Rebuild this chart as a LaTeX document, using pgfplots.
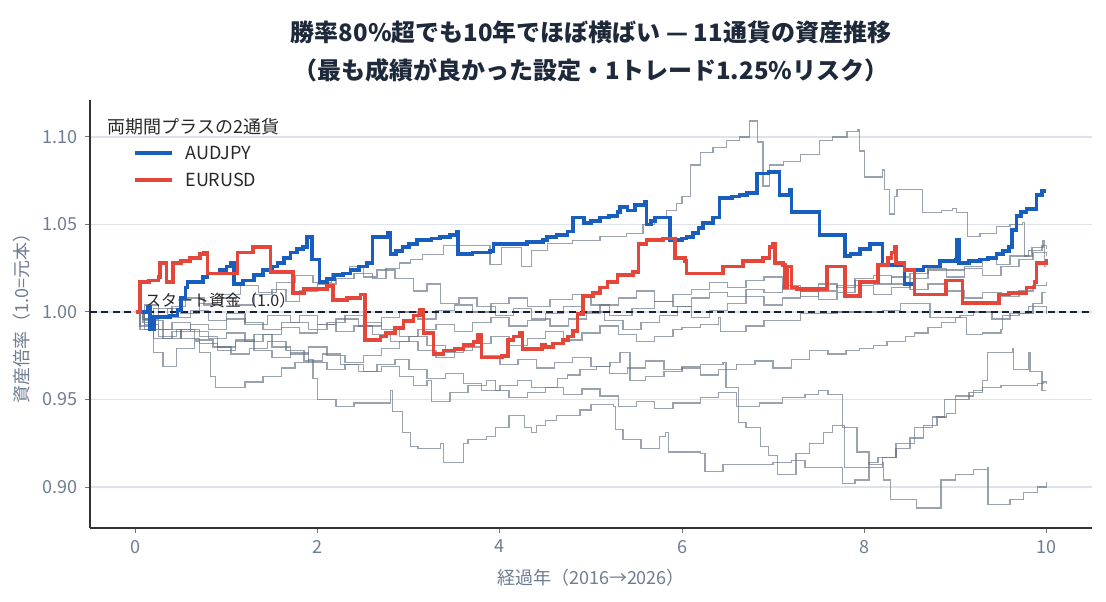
\documentclass[border=0pt]{standalone}
\usepackage{fontspec}
\setmainfont{Noto Sans CJK JP}
\usepackage{pgfplots}
\pgfplotsset{compat=1.18}
\definecolor{audblue}{RGB}{24,94,190}
\definecolor{eurred}{RGB}{229,70,58}
\definecolor{grayln}{RGB}{100,112,130}
\definecolor{titlec}{RGB}{30,41,59}
\definecolor{tickc}{RGB}{110,125,145}
\definecolor{gridc}{RGB}{222,227,234}
\definecolor{navy}{RGB}{22,32,56}
\definecolor{txtc}{RGB}{40,40,40}
\begin{document}
\begin{tikzpicture}
\useasboundingbox (-45pt,-36.5pt) rectangle (508pt,264pt);
\begin{axis}[
  scale only axis, width=501pt, height=214pt,
  xmin=-0.5, xmax=10.5, ymin=0.8766, ymax=1.1211,
  axis x line*=bottom, axis y line*=left,
  axis line style={color=black!80, line width=0.8pt},
  xtick={0,2,4,6,8,10}, ytick={0.90,0.95,1.00,1.05,1.10},
  yticklabel style={/pgf/number format/.cd, fixed, fixed zerofill, precision=2},
  /pgf/number format/assume math mode=true,
  tick align=outside, major tick length=2.5pt,
  tick style={color=black!55, line width=0.5pt},
  ymajorgrids, grid style={gridc, line width=0.6pt},
  ticklabel style={font=\fontsize{9}{11}\selectfont, color=tickc},
]
% gray series
\pgfplotsset{gl/.style={const plot, color=grayln, opacity=0.65, line width=0.7pt, forget plot}}
% G1
\addplot[gl] coordinates {(0,1.0)(0.08,0.994)(0.2,0.998)(0.35,1.002)(0.5,0.999)(0.7,1.005)(0.9,1.008)(1.1,1.004)(1.3,1.01)(1.5,1.013)(1.65,1.006)(1.8,1.012)(2.0,1.016)(2.2,1.019)(2.4,1.022)(2.6,1.019)(2.75,1.025)(2.9,1.028)(3.02,1.03)(3.15,1.033)(3.38,1.038)(3.86,1.038)(3.89,1.027)(4.02,1.037)(4.22,1.037)(4.24,1.026)(4.35,1.035)(4.52,1.039)(4.8,1.041)(5.1,1.043)(5.39,1.045)(5.57,1.05)(5.7,1.054)(5.83,1.058)(5.94,1.062)(6.0,1.066)(6.09,1.084)(6.2,1.091)(6.34,1.094)(6.49,1.098)(6.63,1.1)(6.74,1.109)(6.83,1.097)(6.89,1.072)(6.96,1.084)(7.11,1.086)(7.3,1.09)(7.51,1.098)(7.65,1.1)(7.81,1.103)(7.93,1.104)(7.95,1.092)(8.0,1.077)(8.2,1.081)(8.22,1.07)(8.28,1.056)(8.33,1.066)(8.36,1.07)(8.64,1.057)(8.85,1.058)(8.97,1.059)(9.01,1.057)(9.13,1.043)(9.27,1.045)(9.45,1.049)(9.6,1.05)(9.74,1.051)(9.76,1.032)(9.84,1.037)(9.96,1.041)(9.98,1.026)(10,1.026)};
% G2
\addplot[gl] coordinates {(0,1.0)(0.1,0.996)(0.25,0.99)(0.4,0.994)(0.6,0.989)(0.8,0.985)(1.0,0.988)(1.2,0.983)(1.4,0.987)(1.6,0.991)(1.8,0.988)(2.0,0.993)(2.2,0.996)(2.45,0.992)(2.7,0.997)(2.9,1.0)(3.1,0.996)(3.3,1.001)(3.5,1.004)(3.7,1.0)(3.9,1.005)(4.1,1.008)(4.3,1.003)(4.55,1.007)(4.8,1.01)(5.0,1.004)(5.2,0.998)(5.45,1.002)(5.7,1.006)(5.9,1.003)(6.1,1.008)(6.3,1.011)(6.5,1.009)(6.7,1.013)(6.9,1.011)(7.1,1.015)(7.3,1.012)(7.5,1.016)(7.7,1.014)(7.9,1.018)(8.1,1.016)(8.3,1.02)(8.5,1.022)(8.7,1.025)(8.9,1.024)(9.1,1.026)(9.3,1.03)(9.45,1.027)(9.6,1.032)(9.8,1.035)(9.95,1.038)(10,1.036)};
% G3
\addplot[gl] coordinates {(0,1.0)(0.05,0.992)(0.2,0.985)(0.4,0.989)(0.6,0.993)(0.8,0.99)(1.0,0.996)(1.2,0.993)(1.45,0.998)(1.7,0.994)(1.9,0.99)(2.1,0.994)(2.3,0.998)(2.5,0.994)(2.7,0.99)(2.9,0.986)(3.1,0.99)(3.3,0.993)(3.5,0.989)(3.7,0.994)(3.9,0.997)(4.1,0.992)(4.3,0.995)(4.5,0.999)(4.7,1.003)(4.9,0.999)(5.1,1.004)(5.3,1.008)(5.5,1.012)(5.7,1.006)(5.9,1.01)(6.1,1.013)(6.3,1.017)(6.5,1.014)(6.7,1.018)(6.9,1.02)(7.1,1.013)(7.3,1.009)(7.5,1.012)(7.7,1.015)(7.9,1.019)(8.1,1.021)(8.3,1.016)(8.5,1.013)(8.7,1.016)(8.9,1.012)(9.1,1.008)(9.3,1.011)(9.5,1.009)(9.7,1.012)(9.85,1.015)(10,1.017)};
% G4
\addplot[gl] coordinates {(0,1.0)(0.1,0.995)(0.3,0.99)(0.5,0.985)(0.7,0.982)(0.9,0.978)(1.1,0.983)(1.3,0.987)(1.5,0.98)(1.7,0.976)(1.9,0.98)(2.1,0.975)(2.3,0.971)(2.5,0.975)(2.7,0.979)(2.9,0.983)(3.1,0.978)(3.3,0.974)(3.5,0.978)(3.7,0.982)(3.9,0.986)(4.1,0.981)(4.3,0.985)(4.5,0.989)(4.7,0.984)(4.9,0.988)(5.1,0.992)(5.3,0.987)(5.5,0.983)(5.7,0.986)(5.9,0.99)(6.0,0.991)(6.2,0.993)(6.4,0.997)(6.42,0.989)(6.7,0.992)(6.9,0.995)(7.3,0.999)(7.7,1.0)(8.2,1.001)(8.4,1.005)(8.7,1.005)(8.72,0.997)(9.1,0.997)(9.12,0.987)(9.3,0.988)(9.5,0.99)(9.52,0.998)(9.7,0.999)(9.85,1.005)(9.95,1.011)(10,1.011)};
% G5
\addplot[gl] coordinates {(0,1.0)(0.1,0.993)(0.25,0.986)(0.45,0.99)(0.65,0.984)(0.85,0.98)(1.05,0.976)(1.25,0.979)(1.45,0.983)(1.65,0.978)(1.85,0.972)(2.05,0.976)(2.25,0.97)(2.45,0.966)(2.65,0.97)(2.85,0.973)(3.0,0.967)(3.2,0.962)(3.4,0.965)(3.6,0.959)(3.8,0.955)(4.0,0.958)(4.19,0.961)(4.35,0.957)(4.63,0.962)(4.74,0.964)(4.88,0.967)(5.06,0.969)(5.21,0.971)(5.32,0.977)(5.43,0.961)(5.6,0.963)(5.8,0.966)(6.0,0.968)(6.2,0.964)(6.4,0.967)(6.6,0.97)(6.8,0.972)(7.0,0.968)(7.2,0.973)(7.4,0.978)(7.6,0.976)(7.8,0.978)(7.95,0.979)(8.1,0.981)(8.25,0.983)(8.45,0.986)(8.55,0.988)(8.7,0.991)(8.85,0.994)(9.0,0.997)(9.05,0.998)(9.2,1.0)(9.4,0.996)(9.6,0.999)(9.8,1.003)(10,0.999)};
% G6
\addplot[gl] coordinates {(0,1.0)(0.1,0.99)(0.3,0.985)(0.5,0.99)(0.7,0.986)(0.9,0.98)(1.1,0.984)(1.3,0.978)(1.5,0.974)(1.7,0.977)(1.9,0.971)(2.1,0.967)(2.3,0.97)(2.5,0.966)(2.7,0.969)(2.9,0.963)(3.05,0.958)(3.2,0.961)(3.25,0.949)(3.45,0.954)(3.65,0.958)(3.85,0.961)(3.95,0.955)(4.1,0.951)(4.3,0.954)(4.5,0.957)(4.7,0.953)(4.9,0.956)(5.1,0.952)(5.3,0.946)(5.5,0.949)(5.7,0.945)(5.9,0.948)(6.2,0.951)(6.4,0.954)(6.6,0.946)(6.62,0.937)(6.7,0.934)(6.86,0.923)(6.95,0.918)(7.05,0.907)(7.25,0.919)(7.4,0.925)(7.55,0.931)(7.65,0.935)(7.78,0.911)(8.05,0.914)(8.15,0.917)(8.35,0.925)(8.55,0.934)(8.75,0.94)(8.88,0.95)(9.0,0.952)(9.2,0.955)(9.3,0.957)(9.5,0.958)(9.9,0.959)(9.96,0.96)(10,0.959)};
% G7
\addplot[gl] coordinates {(0,1.0)(0.08,0.996)(0.2,1.002)(0.4,0.997)(0.6,1.001)(0.8,0.995)(1.0,0.999)(1.2,0.994)(1.4,0.99)(1.6,0.994)(1.8,0.998)(2.0,0.993)(2.2,0.989)(2.4,0.992)(2.6,0.987)(2.8,0.983)(3.0,0.986)(3.2,0.981)(3.4,0.977)(3.6,0.98)(3.8,0.975)(4.0,0.97)(4.2,0.973)(4.4,0.968)(4.6,0.971)(4.8,0.974)(5.0,0.969)(5.2,0.965)(5.4,0.968)(5.6,0.972)(5.8,0.967)(6.0,0.969)(6.2,0.97)(6.45,0.971)(6.48,0.957)(6.62,0.946)(6.85,0.948)(7.1,0.951)(7.35,0.953)(7.5,0.955)(7.6,0.953)(7.76,0.934)(7.92,0.92)(8.05,0.913)(8.2,0.917)(8.35,0.922)(8.5,0.928)(8.65,0.935)(8.8,0.94)(8.9,0.942)(9.0,0.95)(9.15,0.954)(9.3,0.961)(9.35,0.977)(9.63,0.979)(9.64,0.967)(9.8,0.977)(9.82,0.966)(9.95,0.955)(10,0.955)};
% G8
\addplot[gl] coordinates {(0,1.0)(0.05,0.99)(0.2,0.977)(0.3,0.969)(0.45,0.979)(0.65,0.983)(0.7,0.977)(0.82,0.963)(0.88,0.957)(1.2,0.96)(1.4,0.963)(1.6,0.968)(1.75,0.971)(1.9,0.973)(1.95,0.962)(2.0,0.95)(2.2,0.946)(2.4,0.948)(2.8,0.955)(2.82,0.943)(2.93,0.931)(3.02,0.923)(3.1,0.922)(3.35,0.925)(3.38,0.914)(3.58,0.914)(3.6,0.925)(3.65,0.927)(3.85,0.929)(3.95,0.934)(4.1,0.941)(4.25,0.941)(4.27,0.934)(4.35,0.931)(4.4,0.935)(4.5,0.938)(4.62,0.941)(4.88,0.944)(5.0,0.947)(5.25,0.946)(5.27,0.933)(5.35,0.927)(5.55,0.922)(5.75,0.929)(5.82,0.931)(5.85,0.92)(6.2,0.919)(6.25,0.909)(6.45,0.913)(7.0,0.914)(7.2,0.915)(7.35,0.911)(7.76,0.902)(7.9,0.904)(8.05,0.911)(8.2,0.914)(8.21,0.904)(8.29,0.893)(8.57,0.888)(8.84,0.904)(9.0,0.907)(9.2,0.91)(9.35,0.911)(9.36,0.89)(9.6,0.893)(9.75,0.897)(9.9,0.9)(10,0.903)};
% G9
\addplot[gl] coordinates {(0,1.0)(0.1,1.004)(0.25,0.998)(0.4,1.003)(0.55,1.008)(0.75,1.004)(0.95,1.01)(1.15,1.015)(1.35,1.011)(1.55,1.017)(1.75,1.021)(1.95,1.017)(2.15,1.022)(2.35,1.026)(2.5,1.02)(2.65,1.024)(2.85,1.019)(3.05,1.012)(3.2,1.016)(3.35,1.005)(3.55,1.008)(3.75,1.003)(3.95,0.998)(4.15,1.002)(4.35,0.996)(4.55,0.992)(4.75,0.996)(4.95,1.0)(5.15,0.995)(5.35,0.99)(5.55,0.994)(5.75,0.998)(5.95,1.003)(6.1,0.997)(6.3,1.001)(6.5,1.005)(6.7,1.009)(6.9,1.004)(7.1,1.008)(7.3,1.012)(7.5,1.007)(7.7,1.011)(7.9,1.015)(8.1,1.01)(8.3,1.014)(8.5,1.019)(8.7,1.024)(8.9,1.02)(9.1,1.025)(9.3,1.021)(9.5,1.026)(9.7,1.03)(9.85,1.034)(10,1.032)};
% reference line
\addplot[color=navy, line width=0.8pt, dash pattern=on 3.5pt off 2.2pt, forget plot] coordinates {(-0.5,1.0) (10.5,1.0)};
\node[anchor=south west, inner sep=0.5pt, font=\fontsize{8}{9.6}\selectfont, text=txtc] at (axis cs:0.09,1.0015) {スタート資金（1.0）};
% AUDJPY
\addplot[const plot, color=audblue, line width=1.8pt, forget plot] coordinates {(0.00,1.000)(0.14,1.003)(0.16,0.990)(0.20,0.997)(0.38,0.998)(0.46,1.001)(0.50,1.008)(0.55,1.014)(0.57,1.017)(0.74,1.020)(0.79,1.022)(0.92,1.024)(1.00,1.026)(1.05,1.028)(1.08,1.016)(1.18,1.018)(1.30,1.021)(1.40,1.024)(1.50,1.026)(1.56,1.028)(1.63,1.031)(1.70,1.034)(1.77,1.036)(1.84,1.037)(1.88,1.043)(1.94,1.030)(2.02,1.017)(2.10,1.019)(2.18,1.021)(2.28,1.022)(2.36,1.024)(2.45,1.026)(2.54,1.028)(2.60,1.043)(2.77,1.045)(2.80,1.033)(2.86,1.035)(2.93,1.037)(3.00,1.039)(3.09,1.041)(3.25,1.042)(3.34,1.043)(3.45,1.044)(3.53,1.046)(3.54,1.033)(3.70,1.034)(3.89,1.035)(3.93,1.039)(4.10,1.039)(4.30,1.040)(4.47,1.041)(4.52,1.043)(4.62,1.044)(4.74,1.046)(4.80,1.054)(4.92,1.051)(5.00,1.052)(5.10,1.054)(5.20,1.055)(5.29,1.057)(5.32,1.060)(5.40,1.058)(5.48,1.061)(5.59,1.063)(5.61,1.050)(5.66,1.052)(5.70,1.054)(5.87,1.041)(6.00,1.042)(6.05,1.043)(6.12,1.045)(6.18,1.048)(6.23,1.051)(6.34,1.054)(6.41,1.065)(6.55,1.066)(6.63,1.067)(6.71,1.068)(6.82,1.079)(6.95,1.080)(7.07,1.067)(7.18,1.070)(7.20,1.057)(7.51,1.044)(7.79,1.032)(7.85,1.033)(7.95,1.036)(8.06,1.039)(8.20,1.027)(8.44,1.016)(8.55,1.024)(8.65,1.026)(8.83,1.029)(9.01,1.030)(9.02,1.041)(9.04,1.028)(9.15,1.029)(9.27,1.030)(9.36,1.031)(9.45,1.033)(9.52,1.035)(9.59,1.037)(9.62,1.047)(9.67,1.055)(9.72,1.057)(9.78,1.059)(9.89,1.067)(9.95,1.069)(10.0,1.069)};
% EURUSD
\addplot[const plot, color=eurred, line width=1.8pt, forget plot] coordinates {(0,1.000)(0.05,1.017)(0.15,1.018)(0.25,1.020)(0.27,1.028)(0.34,1.017)(0.41,1.028)(0.50,1.029)(0.60,1.031)(0.71,1.033)(0.75,1.034)(0.79,1.022)(1.12,1.034)(1.29,1.037)(1.48,1.023)(1.73,1.011)(1.85,1.013)(1.95,1.013)(2.10,1.015)(2.17,1.007)(2.32,1.008)(2.47,1.010)(2.52,0.984)(2.69,0.986)(2.75,0.988)(2.85,0.991)(2.94,0.995)(3.05,0.998)(3.12,1.001)(3.16,0.988)(3.27,0.976)(3.38,0.978)(3.50,0.979)(3.60,0.981)(3.71,0.983)(3.76,0.987)(3.80,0.974)(4.02,0.975)(4.09,0.984)(4.15,0.986)(4.22,0.988)(4.25,0.979)(4.42,0.979)(4.46,0.981)(4.50,0.980)(4.58,0.982)(4.69,0.984)(4.75,0.986)(4.80,0.989)(4.85,0.999)(4.91,1.009)(5.02,1.011)(5.10,1.014)(5.18,1.017)(5.29,1.021)(5.46,1.023)(5.52,1.039)(5.61,1.041)(5.79,1.042)(5.92,1.031)(6.03,1.029)(6.05,1.022)(6.45,1.026)(6.67,1.029)(6.89,1.031)(6.96,1.037)(7.00,1.039)(7.02,1.028)(7.11,1.027)(7.13,1.014)(7.15,1.026)(7.20,1.014)(7.26,1.013)(7.59,1.026)(7.79,1.009)(7.95,1.017)(8.15,1.027)(8.26,1.031)(8.30,1.034)(8.33,1.037)(8.35,1.028)(8.44,1.024)(8.55,1.010)(8.90,1.018)(9.08,1.005)(9.48,1.010)(9.59,1.011)(9.78,1.014)(9.87,1.017)(9.89,1.028)(10.0,1.030)};
\end{axis}
% titles and labels
\node[font=\fontsize{12}{14}\bfseries\selectfont, text=titlec] at (250.5pt,248pt) {勝率80\%超でも10年でほぼ横ばい — 11通貨の資産推移};
\node[font=\fontsize{12}{14}\bfseries\selectfont, text=titlec] at (250.5pt,229pt) {（最も成績が良かった設定・1トレード1.25\%リスク）};
\node[font=\fontsize{9}{11}\selectfont, text=tickc] at (250.5pt,-25pt) {経過年（2016→2026）};
\node[font=\fontsize{9}{11}\selectfont, text=tickc, rotate=90] at (-34pt,107pt) {資産倍率（1.0=元本）};
% legend
\node[anchor=west, inner sep=0pt, font=\fontsize{9}{11}\selectfont, text=txtc] at (8.5pt,200.5pt) {両期間プラスの2通貨};
\draw[audblue, line width=1.8pt] (22.5pt,187.5pt) -- (41pt,187.5pt);
\node[anchor=west, inner sep=0pt, font=\fontsize{9}{11}\selectfont, text=txtc] at (47.5pt,187.5pt) {AUDJPY};
\draw[eurred, line width=1.8pt] (22.5pt,174pt) -- (41pt,174pt);
\node[anchor=west, inner sep=0pt, font=\fontsize{9}{11}\selectfont, text=txtc] at (47.5pt,174pt) {EURUSD};
\end{tikzpicture}
\end{document}
